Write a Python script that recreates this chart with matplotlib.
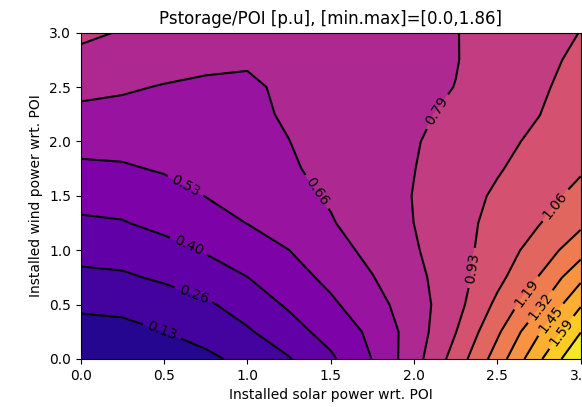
import numpy as np
import matplotlib
matplotlib.use('Agg')
import matplotlib.pyplot as plt

# installed solar / wind power (wrt. POI) grid
solar = [0.0, 0.25, 0.5, 0.75, 1.0, 1.25, 1.5, 1.75, 2.0, 2.25, 2.5, 2.75, 3.0]
wind = [0.0, 0.25, 0.5, 0.75, 1.0, 1.25, 1.5, 1.75, 2.0, 2.25, 2.5, 2.75, 3.0]

# Pstorage/POI, one row per wind value
p_storage = np.array([
    [0.000, 0.011, 0.044, 0.099, 0.176, 0.256, 0.374, 0.532, 0.740, 0.981, 1.251, 1.564, 1.851],
    [0.079, 0.092, 0.131, 0.189, 0.249, 0.343, 0.447, 0.556, 0.723, 0.922, 1.168, 1.442, 1.715],
    [0.158, 0.168, 0.196, 0.244, 0.323, 0.414, 0.506, 0.611, 0.733, 0.879, 1.088, 1.302, 1.574],
    [0.235, 0.246, 0.284, 0.339, 0.395, 0.475, 0.561, 0.656, 0.757, 0.871, 1.021, 1.196, 1.424],
    [0.308, 0.319, 0.352, 0.406, 0.468, 0.528, 0.611, 0.695, 0.780, 0.876, 0.986, 1.117, 1.269],
    [0.377, 0.389, 0.433, 0.482, 0.531, 0.591, 0.652, 0.722, 0.794, 0.879, 0.965, 1.052, 1.164],
    [0.440, 0.450, 0.480, 0.531, 0.578, 0.625, 0.674, 0.735, 0.797, 0.871, 0.944, 1.017, 1.090],
    [0.506, 0.514, 0.541, 0.577, 0.613, 0.648, 0.692, 0.741, 0.791, 0.852, 0.915, 0.980, 1.045],
    [0.569, 0.573, 0.584, 0.602, 0.627, 0.660, 0.701, 0.743, 0.785, 0.836, 0.891, 0.952, 1.030],
    [0.632, 0.630, 0.627, 0.628, 0.640, 0.672, 0.706, 0.740, 0.774, 0.814, 0.869, 0.923, 1.003],
    [0.694, 0.674, 0.655, 0.643, 0.645, 0.680, 0.709, 0.737, 0.766, 0.795, 0.849, 0.905, 0.978],
    [0.757, 0.735, 0.705, 0.685, 0.672, 0.695, 0.715, 0.737, 0.760, 0.789, 0.839, 0.892, 0.952],
    [0.820, 0.785, 0.755, 0.730, 0.720, 0.730, 0.745, 0.760, 0.775, 0.790, 0.831, 0.880, 0.928],
])

levels = np.linspace(p_storage.min(), p_storage.max(), 15)

# where the inline level labels go
label_spots = [(0.49, 0.26), (0.68, 0.61), (0.65, 1.05), (0.64, 1.62),
               (1.44, 1.56), (2.17, 2.24), (2.38, 0.83), (2.86, 1.40),
               (2.68, 0.60), (2.76, 0.48), (2.83, 0.35), (2.88, 0.25)]

fig = plt.figure(figsize=(5.82, 4.07), dpi=100)
ax = fig.add_axes([80.7 / 582, 48 / 407, 500 / 582, 326.3 / 407])

ax.contourf(solar, wind, p_storage, levels=levels, cmap='plasma')
cs = ax.contour(solar, wind, p_storage, levels=levels, colors='black')
ax.clabel(cs, fmt='%.2f', manual=label_spots, inline=True)

ax.set_title('Pstorage/POI [p.u], [min.max]=[0.0,1.86]')
ax.set_xlabel('Installed solar power wrt. POI')
ax.set_ylabel('Installed wind power wrt. POI')

fig.savefig('out.png', dpi=100)
